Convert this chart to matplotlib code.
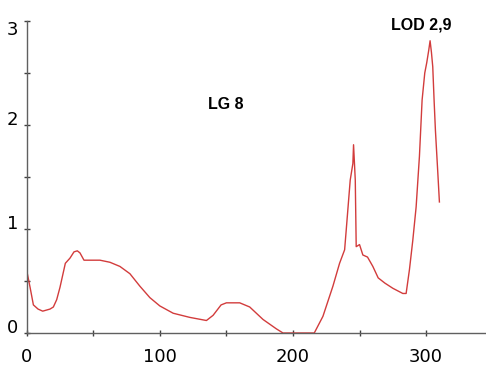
import matplotlib
matplotlib.use("Agg")
import matplotlib.pyplot as plt
import numpy as np

# Position (cM) and LOD score
pos = [0, 2.5, 5, 8.5, 12, 17.5, 20, 22.5, 25, 29, 32.5, 35.5, 38, 40, 43, 55, 62.5,
       70, 77.5, 85, 92.5, 100, 110, 122.5, 135, 140, 146, 150, 160, 167.5, 177.5,
       187.5, 192.5, 216, 222.5, 230, 235, 238.8, 240, 242, 243, 245, 245.5, 246.8,
       247.5, 250, 252.5, 256, 260, 264, 269, 275, 282.5, 285, 287.5, 290, 292.5,
       295, 297, 299, 300.5, 302, 303, 304, 305, 306, 307, 308.8, 310]
lod = [0.6, 0.44, 0.27, 0.23, 0.21, 0.23, 0.25, 0.32, 0.44, 0.67, 0.72, 0.78, 0.79,
       0.77, 0.70, 0.70, 0.68, 0.64, 0.57, 0.45, 0.34, 0.26, 0.19, 0.15, 0.12, 0.17,
       0.27, 0.29, 0.29, 0.25, 0.13, 0.04, 0.0, 0.0, 0.16, 0.45, 0.67, 0.80, 0.99,
       1.31, 1.47, 1.63, 1.81, 1.47, 0.83, 0.85, 0.75, 0.73, 0.64, 0.53, 0.48, 0.43,
       0.38, 0.38, 0.61, 0.89, 1.21, 1.70, 2.24, 2.5, 2.6, 2.72, 2.81, 2.7, 2.56,
       2.24, 1.95, 1.54, 1.26]

x_ticks = [0, 50, 100, 150, 200, 250, 300]
x_labels = ["0", "", "100", "", "200", "", "300"]
y_ticks = [0, 0.5, 1, 1.5, 2, 2.5, 3]
y_labels = ["0", "", "1", "", "2", "", "3"]

fig = plt.figure(figsize=(4.86, 3.65), dpi=100)
ax = fig.add_axes([0.055, 0.0877, 0.945, 0.8548])

ax.plot(pos, lod, color="#d23c3c", lw=1.0)

ax.set_xlim(0, 345)
ax.set_ylim(0, 3)
for s in ["top", "right"]:
    ax.spines[s].set_visible(False)
for s in ["left", "bottom"]:
    ax.spines[s].set_color("#606060")
    ax.spines[s].set_linewidth(1.0)

ax.set_xticks(x_ticks)
ax.set_xticklabels(x_labels)
ax.set_yticks(y_ticks)
ax.set_yticklabels(y_labels)
ax.tick_params(direction="inout", length=4, width=1, color="#404040",
               labelsize=13, labelcolor="black")
ax.tick_params(axis="x", pad=9)
ax.tick_params(axis="y", pad=4)
for lab in ax.get_yticklabels():
    lab.set_verticalalignment("baseline")
ax.get_yticklabels()[-1].set_verticalalignment("top")

ax.text(149.5, 2.2, "LG 8", ha="center", va="center", fontsize=11.5,
        fontweight="bold", family="Liberation Sans")
ax.text(296, 2.96, "LOD 2,9", ha="center", va="center", fontsize=11.5,
        fontweight="bold", family="Liberation Sans")

fig.savefig("out.png", dpi=100)
